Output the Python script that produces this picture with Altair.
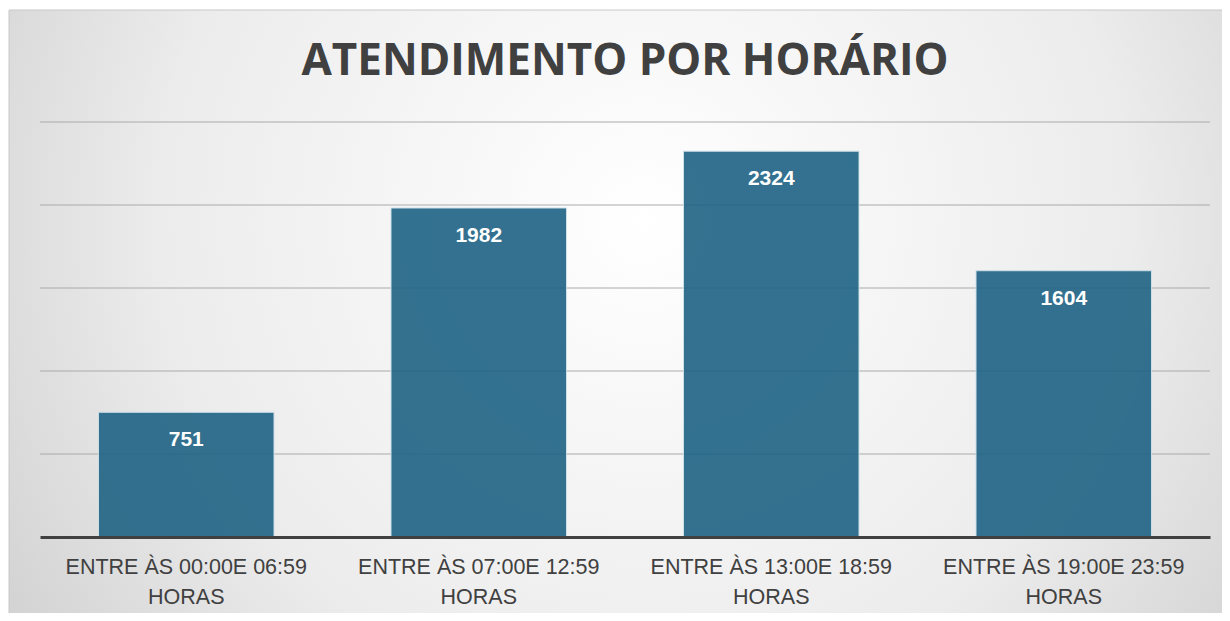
import altair as alt
import pandas as pd

categories = [
    "ENTRE ÀS 00:00E 06:59 HORAS",
    "ENTRE ÀS 07:00E 12:59 HORAS",
    "ENTRE ÀS 13:00E 18:59 HORAS",
    "ENTRE ÀS 19:00E 23:59 HORAS",
]
values = [751, 1982, 2324, 1604]
grid_values = [500, 1000, 1500, 2000, 2500]
title_text = "ATENDIMENTO POR HORÁRIO"

W, H = 1170, 415

df = pd.DataFrame({"faixa": categories, "atend": values})
grid_df = pd.DataFrame({"v": grid_values})

x_enc = alt.X(
    "faixa:N",
    sort=categories,
    title=None,
    scale=alt.Scale(paddingInner=0.4, paddingOuter=0.2),
    axis=alt.Axis(
        labelExpr="[replace(datum.label, ' HORAS', ''), 'HORAS']",
        labelAngle=0,
        labelFont="Liberation Sans",
        labelFontSize=21.5,
        labelColor="#404040",
        labelLineHeight=30,
        labelPadding=19,
        labelBaseline="top",
        labelLimit=0,
        ticks=False,
        domainColor="#404040",
        domainWidth=3,
        zindex=1,
    ),
)
y_scale = alt.Scale(domain=[0, 2500], nice=False, zero=True)

bg = alt.Chart(alt.Data(values=[{"k": 1}])).mark_rect(
    color=alt.Gradient(
        gradient="radial",
        stops=[
            alt.GradientStop(color="#ffffff", offset=0),
            alt.GradientStop(color="#ececec", offset=0.55),
            alt.GradientStop(color="#c6c6c6", offset=1),
        ],
        x1=0.52, y1=0.42, x2=0.52, y2=0.42, r1=0, r2=0.72,
    ),
    stroke="#c8c8c8",
    strokeWidth=1,
).encode(
    x=alt.value(-31), x2=alt.value(W + 20),
    y=alt.value(-112), y2=alt.value(H + 90),
)

grid = alt.Chart(grid_df).mark_rule(color="#aaaaaa", strokeWidth=1).encode(
    y=alt.Y("v:Q", scale=y_scale, axis=None)
)

bars = alt.Chart(df).mark_bar(
    color="#1f6385",
    opacity=0.9,
    stroke="#c9dde6",
    strokeWidth=1,
).encode(
    x=x_enc,
    y=alt.Y("atend:Q", scale=y_scale, axis=None),
)

labels = alt.Chart(df).mark_text(
    color="white",
    font="Liberation Sans",
    fontSize=21,
    fontWeight="bold",
    baseline="middle",
    dy=28,
).encode(
    x=alt.X("faixa:N", sort=categories),
    y=alt.Y("atend:Q", scale=y_scale),
    text=alt.Text("atend:Q"),
)

title = alt.Chart(alt.Data(values=[{"t": title_text}])).mark_text(
    font="Open Sans",
    fontSize=44,
    fontWeight="bold",
    color="#404040",
    baseline="middle",
    align="center",
).encode(
    x=alt.value(W / 2),
    y=alt.value(-60),
    text="t:N",
)

chart = alt.layer(bg, grid, bars, labels, title).properties(
    width=W,
    height=H,
    autosize=alt.AutoSizeParams(type="none"),
    padding={"left": 32, "top": 114, "right": 12, "bottom": 76},
    background="white",
).configure_view(stroke=None)

chart.save("out.html", embed_options={"renderer": "svg", "actions": False})
